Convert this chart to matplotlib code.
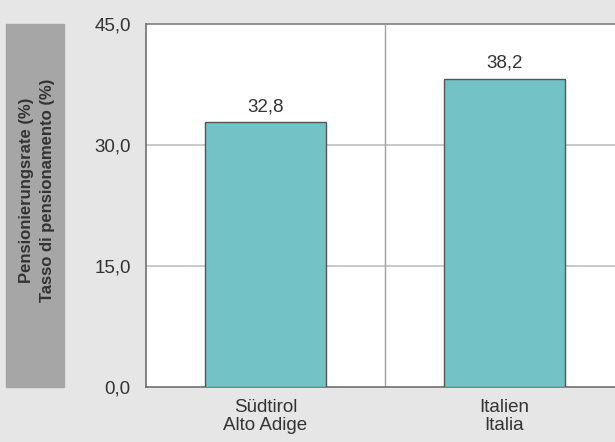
import matplotlib.pyplot as plt
from matplotlib.patches import Rectangle

plt.rcParams['font.family'] = ['Liberation Sans', 'DejaVu Sans']

categories = ["Südtirol\nAlto Adige", "Italien\nItalia"]
values = [32.8, 38.2]
yticks = [0, 15, 30, 45]
ylabel = "Pensionierungsrate (%)\nTasso di pensionamento (%)"

BG = '#e6e6e6'
BAR = '#73c2c5'
TXT = '#333333'


def fmt(v):
    return f"{v:.1f}".replace('.', ',')


def main():
    fig = plt.figure(figsize=(6.15, 4.42), dpi=100, facecolor=BG)
    # axes run past the right edge of the figure like in the original
    ax = fig.add_axes([146 / 615, 55 / 442, 478 / 615, 363 / 442])
    ax.set_facecolor('white')

    x = list(range(len(categories)))
    ax.bar(x, values, width=0.51, color=BAR, edgecolor='#555555', linewidth=1.0, zorder=3)
    for xi, v in zip(x, values):
        ax.annotate(fmt(v), (xi, v), xytext=(0, 8), textcoords='offset points',
                    ha='center', va='baseline', fontsize=13.5, color=TXT)

    ax.set_xlim(-0.5, len(categories) - 0.5)
    ax.set_ylim(0, 45)
    ax.set_yticks(yticks)
    ax.set_yticklabels([fmt(t) for t in yticks], fontsize=13.5, color=TXT)
    ax.set_xticks(x)
    ax.set_xticklabels(categories, fontsize=13.5, color=TXT, linespacing=1.0)
    ax.tick_params(length=0, pad=11, axis='y')
    ax.tick_params(length=0, pad=9, axis='x')

    for t in yticks[1:-1]:
        ax.axhline(t, color='#c0c0c0', linewidth=1.2, zorder=1)
    for i in range(1, len(categories)):
        ax.axvline(i - 0.5, color='#a0a0a0', linewidth=1.0, zorder=1)

    for s in ['top', 'right']:
        ax.spines[s].set_visible(False)
    ax.axhline(45, color='#909090', linewidth=1.4, zorder=1, clip_on=False)
    ax.spines['left'].set_color('#707070')
    ax.spines['bottom'].set_color('#707070')
    ax.spines['left'].set_linewidth(1.2)
    ax.spines['bottom'].set_linewidth(1.2)

    # grey label box at the left
    fig.patches.append(Rectangle((6 / 615, 55 / 442), 58 / 615, 363 / 442,
                                 transform=fig.transFigure, color='#a6a6a6', zorder=0))
    fig.text(37 / 615, 1 - 190 / 442, ylabel, rotation=90, ha='center', va='center',
             fontsize=12, fontweight='bold', color=TXT, linespacing=1.45)

    fig.savefig('out.png', dpi=100, facecolor=BG)


if __name__ == "__main__":
    main()
